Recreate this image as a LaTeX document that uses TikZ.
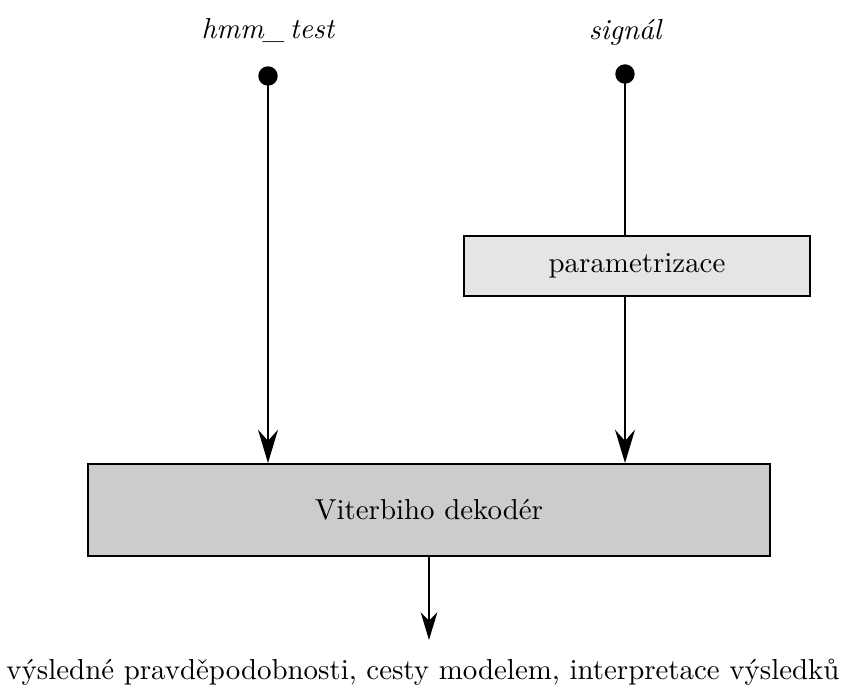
\documentclass[tikz,border=0pt]{standalone}
\usepackage{fontspec}
\usetikzlibrary{arrows.meta}
\begin{document}
\begin{tikzpicture}[x=0.36pt,y=-0.36pt,
  font=\fontsize{10.4}{12.5}\selectfont,
  wire/.style={line width=0.65pt},
  flow/.style={wire,-{Stealth[length=12pt,width=7.2pt,inset=4pt]}},
  smallflow/.style={wire,-{Stealth[length=10pt,width=6pt,inset=3pt]}},
  blockbox/.style={draw,line width=0.7pt,minimum height=0.36pt*60,inner sep=0pt},
  terminal/.style={circle,fill=black,inner sep=0pt,minimum size=7pt},
  lbl/.style={inner sep=0pt,font=\fontsize{10.4}{12.5}\selectfont\itshape}]
\useasboundingbox (0,0) rectangle (846,691);

% inputs
\node[lbl] (hmmlbl) at (268,30) {hmm\_\,test};
\node[lbl] (siglbl) at (625,32) {signál};
\node[terminal] (hmmdot) at (268,76) {};
\node[terminal] (sigdot) at (625,74) {};

% processing blocks
\node[blockbox,fill=black!10,minimum width=0.36pt*346] (param) at (637,266) {parametrizace};
\node[blockbox,fill=black!20,minimum width=0.36pt*682,minimum height=0.36pt*92] (viterbi) at (429,510) {Viterbiho dekodér};

% output
\coordinate (outend) at (429,640);
\node[inner sep=0pt] (outlbl) at (423,672) {výsledné pravděpodobnosti, cesty modelem, interpretace výsledků};

% connectors
\draw[flow] (hmmdot.center) -- (hmmdot.center |- viterbi.north);
\draw[wire] (sigdot.center) -- (sigdot.center |- param.north);
\draw[flow] (sigdot.center |- param.south) -- (sigdot.center |- viterbi.north);
\draw[smallflow] (viterbi.south) -- (outend);
\end{tikzpicture}
\end{document}
